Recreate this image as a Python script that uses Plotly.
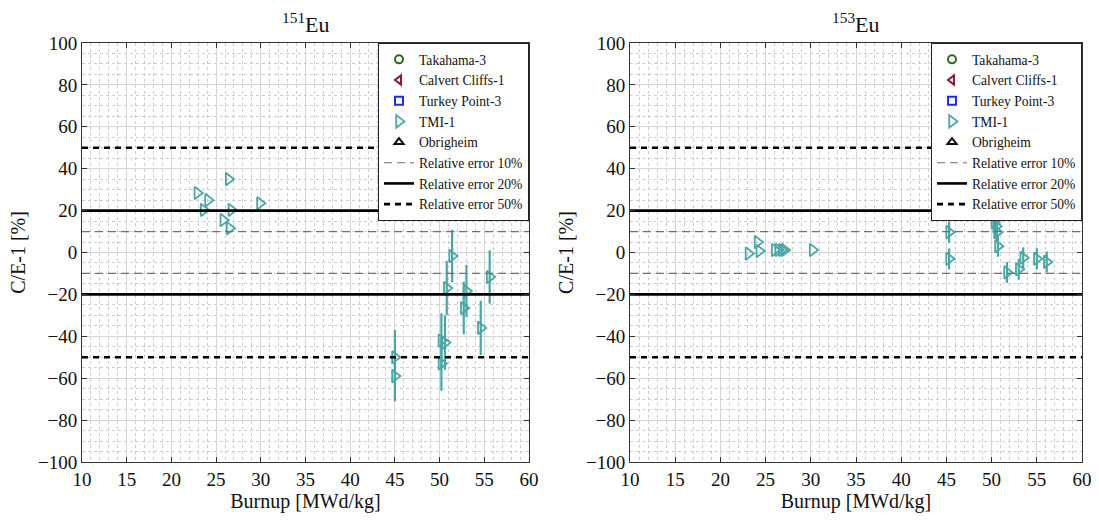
import plotly.graph_objects as go

# Axis ranges and tick settings
x_range = [10, 60]
y_range = [-100, 100]

# TMI-1 C/E-1 results, Eu-151
eu151_burnup = [22.9, 23.6, 24.1, 25.8, 26.4, 26.5, 26.7, 29.9,
                45.0, 45.0, 50.2, 50.2, 50.6, 50.8, 51.4, 52.7, 53.0, 54.6, 55.6]
eu151_ce = [28.4, 20.3, 25.0, 15.5, 35.0, 11.6, 20.3, 23.5,
            -50.0, -59.0, -42.0, -53.0, -43.0, -17.0, -1.7, -26.5, -18.4, -36.0, -11.7]
eu151_err = [0, 0, 0, 0, 0, 0, 0, 0,
             13, 12, 13, 13, 13, 13, 12.5, 12.5, 12.5, 13, 12.7]

# TMI-1 C/E-1 results, Eu-153
eu153_burnup = [23.1, 24.1, 24.3, 26.0, 26.4, 26.8, 27.1, 30.2,
                45.3, 45.3, 50.3, 50.5, 50.6, 50.7, 51.7, 53.0, 53.5, 55.0, 56.1]
eu153_ce = [-0.5, 5.0, 0.7, 1.2, 1.2, 1.2, 1.2, 1.2,
            9.7, -3.0, 14.5, 12.5, 9.7, 3.0, -9.5, -8.0, -2.5, -3.0, -4.5]
eu153_err = [0, 0, 0, 0, 0, 0, 0, 0,
             5, 5, 5, 5, 5, 5, 5, 5, 5, 5, 5]

# Reactors without measured points for these nuclides (legend entries only)
empty_x = [None]
empty_y = [None]

# Relative-error bands
err_levels = [10, 20, 50]

panel_titles = ["<sup>151</sup>Eu", "<sup>153</sup>Eu"]

FONT = "Liberation Serif"
TEAL = "#48A6A6"

reactors = [
    ("Takahama-3", "circle-open", "#2E6B1F"),
    ("Calvert Cliffs-1", "triangle-left-open", "#8B1A2B"),
    ("Turkey Point-3", "square-open", "#1F2FE0"),
    ("TMI-1", "triangle-right-open", TEAL),
    ("Obrigheim", "triangle-up-open", "#111111"),
]

line_styles = {
    10: dict(color="#707070", width=1.2, dash="8px,5px"),
    20: dict(color="#000000", width=2.6, dash="solid"),
    50: dict(color="#000000", width=2.6, dash="6px,5px"),
}

fig = go.Figure()

panels = [
    ("x", "y", "legend", eu151_burnup, eu151_ce, eu151_err),
    ("x2", "y2", "legend2", eu153_burnup, eu153_ce, eu153_err),
]

for xa, ya, lg, bx, ce, err in panels:
    for name, sym, col in reactors:
        if name == "TMI-1":
            fig.add_trace(go.Scatter(
                x=bx, y=ce, mode="markers", name=name,
                xaxis=xa, yaxis=ya, legend=lg,
                marker=dict(symbol=sym, size=11, color=col,
                            line=dict(width=1.8, color=col)),
                error_y=dict(type="data", array=err, visible=True,
                             color=col, thickness=2.2, width=0),
            ))
        else:
            fig.add_trace(go.Scatter(
                x=empty_x, y=empty_y, mode="markers", name=name,
                xaxis=xa, yaxis=ya, legend=lg,
                marker=dict(symbol=sym, size=8, color=col,
                            line=dict(width=2, color=col)),
            ))
    for lev in err_levels:
        fig.add_trace(go.Scatter(
            x=[x_range[0], x_range[1], None, x_range[0], x_range[1]],
            y=[lev, lev, None, -lev, -lev],
            mode="lines", name=f"Relative error {lev}%",
            xaxis=xa, yaxis=ya, legend=lg,
            line=line_styles[lev],
        ))

axis_common = dict(
    showline=True, linecolor="#333333", linewidth=1, mirror="ticks",
    ticks="inside", ticklen=5, tickcolor="#333333",
    showgrid=True, gridcolor="#d4d4d4", gridwidth=1,
    zeroline=False, automargin=False,
    tickfont=dict(family=FONT, size=19, color="#111111"),
)

# plot frame: left 82px, right 1082px, top 43px, bottom 462px
ML, MR, MT, MB = 82, 17, 43, 59
inner_w = 1099 - ML - MR
xdom = [[0, (529 - ML) / inner_w], [(630 - ML) / inner_w, 1.0]]
ydom = [0, 1]

layout = dict(
    width=1099, height=521,
    margin=dict(l=ML, r=MR, t=MT, b=MB),
    paper_bgcolor="white", plot_bgcolor="white",
    font=dict(family=FONT, color="#111111"),
)

for i, (xk, yk, yanchor) in enumerate([("xaxis", "yaxis", "x"), ("xaxis2", "yaxis2", "x2")]):
    layout[xk] = dict(
        axis_common, domain=xdom[i], range=x_range, dtick=5, tick0=10,
        anchor="y" if i == 0 else "y2",
        minor=dict(dtick=1, showgrid=True, gridcolor="#cdcdcd",
                   griddash="dot", gridwidth=1),
        title=dict(text="Burnup [MWd/kg]", font=dict(family=FONT, size=20),
                   standoff=4),
    )
    layout[yk] = dict(
        axis_common, domain=ydom, range=y_range, dtick=20, tick0=-100,
        anchor=yanchor,
        minor=dict(dtick=5, showgrid=True, gridcolor="#cdcdcd",
                   griddash="dot", gridwidth=1),
        title=dict(text="C/E-1 [%]", font=dict(family=FONT, size=20),
                   standoff=6),
    )

legend_common = dict(
    xref="paper", yref="paper", xanchor="right", yanchor="top",
    y=1, bgcolor="white", bordercolor="#222222", borderwidth=1,
    font=dict(family=FONT, size=13.6, color="#111111"),
    tracegroupgap=0, itemwidth=30,
    entrywidth=128, entrywidthmode="pixels",
)
layout["legend"] = dict(legend_common, x=xdom[0][1])
layout["legend2"] = dict(legend_common, x=xdom[1][1])

fig.update_layout(**layout)

for i, t in enumerate(panel_titles):
    fig.add_annotation(
        text=t, xref="paper", yref="paper",
        x=(xdom[i][0] + xdom[i][1]) / 2, y=1.01,
        xanchor="center", yanchor="bottom", showarrow=False,
        font=dict(family=FONT, size=22, color="#111111"),
    )

fig.write_html("out.html")
